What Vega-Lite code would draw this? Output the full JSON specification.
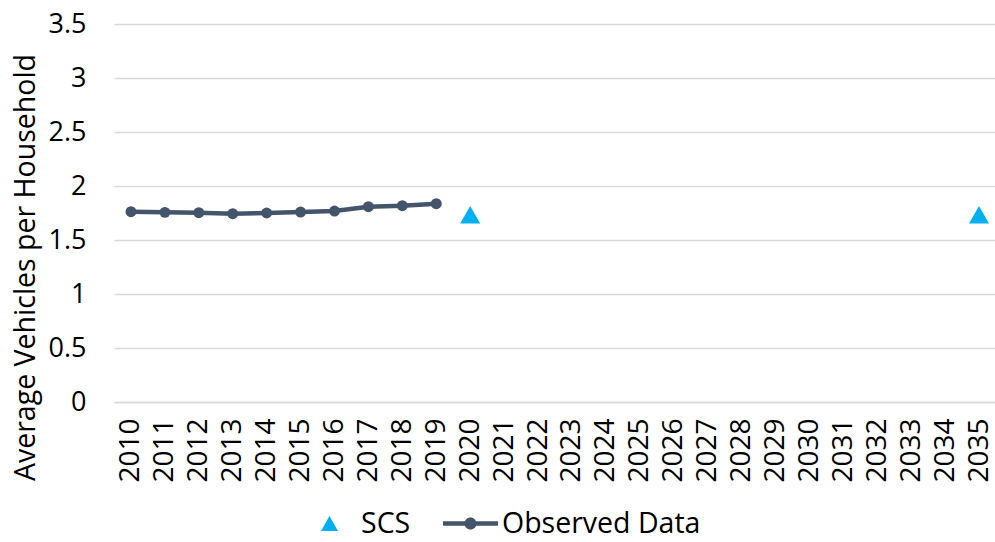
{
  "$schema": "https://vega.github.io/schema/vega-lite/v6.json",
  "width": 882,
  "height": 378,
  "autosize": "none",
  "padding": {"left": 114, "top": 24, "right": 0, "bottom": 140},
  "config": {
    "font": "Open Sans",
    "view": {"stroke": null},
    "axis": {"labelColor": "#000000", "titleColor": "#000000", "labelFont": "Open Sans", "titleFont": "Open Sans"}
  },
  "datasets": {
    "observed": [
      {"year": "2010", "value": 1.762, "series": "Observed Data"},
      {"year": "2011", "value": 1.756, "series": "Observed Data"},
      {"year": "2012", "value": 1.753, "series": "Observed Data"},
      {"year": "2013", "value": 1.744, "series": "Observed Data"},
      {"year": "2014", "value": 1.750, "series": "Observed Data"},
      {"year": "2015", "value": 1.759, "series": "Observed Data"},
      {"year": "2016", "value": 1.768, "series": "Observed Data"},
      {"year": "2017", "value": 1.808, "series": "Observed Data"},
      {"year": "2018", "value": 1.818, "series": "Observed Data"},
      {"year": "2019", "value": 1.836, "series": "Observed Data"}
    ],
    "scs": [
      {"year": "2020", "value": 1.734, "series": "SCS"},
      {"year": "2035", "value": 1.734, "series": "SCS"}
    ]
  },
  "encoding": {
    "x": {
      "field": "year",
      "type": "ordinal",
      "scale": {
        "type": "point",
        "padding": 0.5,
        "domain": ["2010","2011","2012","2013","2014","2015","2016","2017","2018","2019","2020","2021","2022","2023","2024","2025","2026","2027","2028","2029","2030","2031","2032","2033","2034","2035"]
      },
      "axis": {
        "title": null,
        "labelAngle": -90,
        "labelFontSize": 28,
        "labelPadding": 16,
        "ticks": false,
        "grid": false,
        "domainColor": "#d9d9d9",
        "domainWidth": 1.5
      }
    },
    "y": {
      "field": "value",
      "type": "quantitative",
      "scale": {"domain": [0, 3.5], "nice": false, "zero": true},
      "axis": {
        "title": "Average Vehicles per Household",
        "titleFontSize": 28.5,
        "titleFontWeight": "normal",
        "titleX": -89,
        "titleY": 243,
        "titleAngle": 270,
        "titleBaseline": "middle",
        "titleAlign": "center",
        "values": [0, 0.5, 1, 1.5, 2, 2.5, 3, 3.5],
        "format": "~g",
        "labelFontSize": 27,
        "labelPadding": 28,
        "ticks": false,
        "domain": false,
        "grid": true,
        "gridColor": "#d9d9d9",
        "gridWidth": 1.5
      }
    }
  },
  "layer": [
    {
      "data": {"name": "observed"},
      "mark": {"type": "line", "color": "#44546A", "strokeWidth": 4.5}
    },
    {
      "data": {"name": "observed"},
      "mark": {"type": "point", "filled": true, "shape": "circle", "size": 120, "color": "#44546A", "opacity": 1}
    },
    {
      "data": {"name": "scs"},
      "mark": {"type": "point", "filled": true, "opacity": 1, "strokeWidth": 0, "size": 4162},
      "encoding": {
        "color": {
          "field": "series",
          "type": "nominal",
          "scale": {"domain": ["SCS", "Observed Data"], "range": ["#00B0F0", "#44546A"]},
          "legend": {
            "title": null,
            "orient": "none",
            "direction": "horizontal",
            "legendX": 188,
            "legendY": 472,
            "padding": 0,
            "labelFontSize": 28.5,
            "labelLimit": 400,
            "labelColor": "#000000",
            "labelOffset": 4,
            "columnPadding": 32,
            "symbolSize": 3025,
            "symbolStrokeWidth": 0,
            "symbolOpacity": 1
          }
        },
        "shape": {
          "field": "series",
          "type": "nominal",
          "scale": {
            "domain": ["SCS", "Observed Data"],
            "range": ["M0,-0.27L0.31,0.27L-0.31,0.27Z", "M-1,-0.08H1V0.08H-1Z M-0.22,0A0.22,0.22 0 1,1 0.22,0A0.22,0.22 0 1,1 -0.22,0Z"]
          }
        }
      }
    }
  ]
}
